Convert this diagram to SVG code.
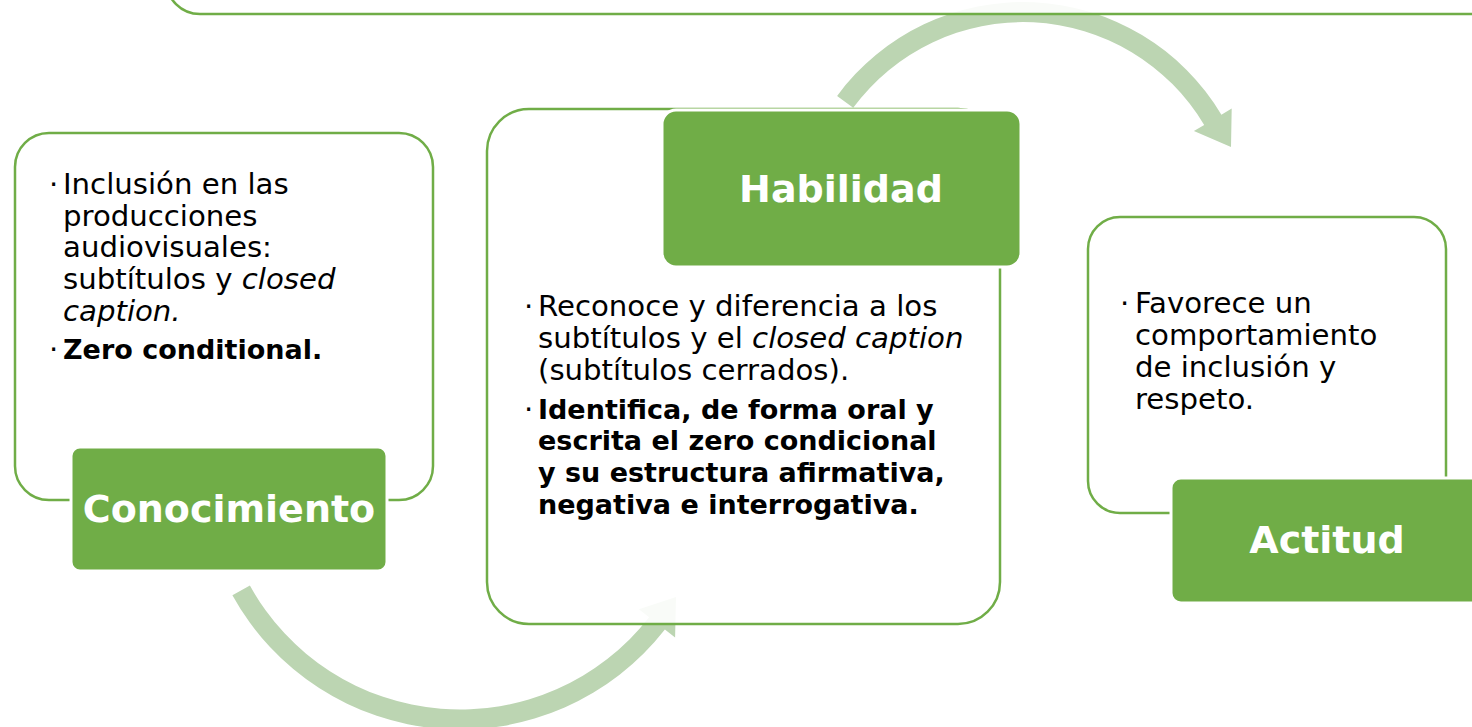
<svg xmlns="http://www.w3.org/2000/svg" width="1472" height="727" viewBox="0 0 1472 727">
<style>
.box{fill:#fff;fill-opacity:0.9;stroke:#70AD47;stroke-width:2.5}
.lab{fill:#70AD47;stroke:#fff;stroke-width:3}
.title{font-family:"DejaVu Sans",sans-serif;font-weight:bold;font-size:38px;fill:#fff;text-anchor:middle}
.t{font-family:"DejaVu Sans",sans-serif;font-size:29.2px;fill:#000}
.b{font-family:"DejaVu Sans",sans-serif;font-size:27px;font-weight:bold;fill:#000}
.i{font-style:italic}
.arr{fill:#BCD5B2}
</style>
<g id="connectors">
<path class="arr" d="M837.1,95.9 A231,231 0 0 1 1221.4,114.7 L1231.7,108.6 L1231,147 L1193.9,131.1 L1204.2,125 A211,211 0 0 0 853.2,107.8 Z"/>
<path class="arr" d="M232.4,595.2 A260,260 0 0 0 664.9,629.6 L675.1,637.6 L676,597 L638.9,609.3 L649.1,617.3 A240,240 0 0 1 249.9,585.5 Z"/>
</g>
<g id="top-box">
<rect class="box" x="166" y="-200" width="1400" height="214" rx="34"/>
</g>
<g id="conocimiento">
<rect class="box" x="15" y="133" width="418" height="367" rx="34"/>
<text class="t" x="49" y="194">·</text>
<text class="t" x="63" y="194">Inclusión en las</text>
<text class="t" x="63" y="226">producciones</text>
<text class="t" x="63" y="257">audiovisuales:</text>
<text class="t" x="63" y="289">subtítulos y <tspan class="i">closed</tspan></text>
<text class="t i" x="63" y="321">caption.</text>
<text class="t" x="49" y="359">·</text>
<text class="b" x="63" y="359">Zero conditional.</text>
<rect class="lab" x="71" y="447" width="316" height="124" rx="9"/>
<text class="title" x="229" y="522">Conocimiento</text>
</g>
<g id="habilidad">
<rect class="box" x="487" y="109" width="513" height="515" rx="42"/>
<text class="t" x="524" y="316">·</text>
<text class="t" x="538" y="316">Reconoce y diferencia a los</text>
<text class="t" x="538" y="348">subtítulos y el <tspan class="i">closed caption</tspan></text>
<text class="t" x="538" y="380">(subtítulos cerrados).</text>
<text class="t" x="524" y="419">·</text>
<text class="b" x="538" y="419">Identifica, de forma oral y</text>
<text class="b" x="538" y="450">escrita el zero condicional</text>
<text class="b" x="538" y="482">y su estructura afirmativa,</text>
<text class="b" x="538" y="514">negativa e interrogativa.</text>
<rect class="lab" x="662" y="110" width="359" height="157" rx="14"/>
<text class="title" x="841" y="202">Habilidad</text>
</g>
<g id="actitud">
<rect class="box" x="1088" y="217" width="358" height="296" rx="32"/>
<text class="t" x="1120" y="313">·</text>
<text class="t" x="1135" y="313">Favorece un</text>
<text class="t" x="1135" y="345">comportamiento</text>
<text class="t" x="1135" y="377">de inclusión y</text>
<text class="t" x="1135" y="409">respeto.</text>
<rect class="lab" x="1171" y="478" width="320" height="125" rx="10"/>
<text class="title" x="1327" y="553">Actitud</text>
</g>
</svg>
